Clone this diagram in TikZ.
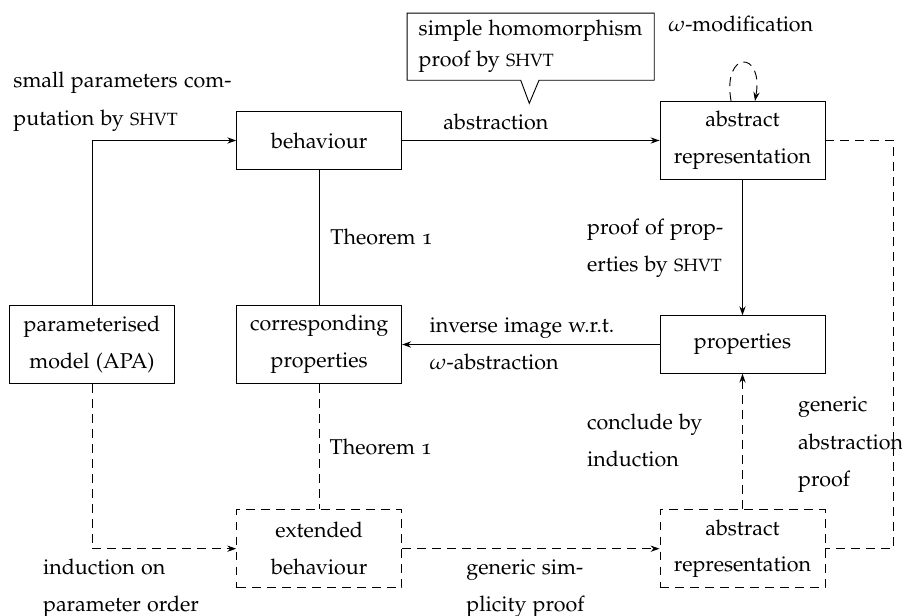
\documentclass[tikz,border=0pt]{standalone}
\usepackage[T1]{fontenc}
\usepackage[sc,osf]{mathpazo}
\usetikzlibrary{arrows.meta,shapes.callouts}

% tool name set in reduced capitals
\newcommand\shvt{{\fontsize{8.5}{10}\selectfont SHVT}}

\begin{document}
\begin{tikzpicture}[x=0.48pt,y=-0.48pt,
  every node/.style={font=\fontsize{10.3}{18}\selectfont},
  conn/.style={line width=0.45pt},
  dsh/.style={dash pattern=on 4.3pt off 2.9pt},
  arr/.style={conn,-{Stealth[length=4.3pt,width=3pt]}},
  box/.style={draw,conn,minimum width=79.2pt,minimum height=27.6pt,
    inner xsep=3pt,inner ysep=2pt,align=center},
  tall/.style={minimum height=37.5pt,font=\fontsize{10.3}{17.6}\selectfont},
  lbl/.style={anchor=base west,align=left,inner sep=0pt},
]
\useasboundingbox (0,0) rectangle (902,616);

% boxes
\node[box]          (beh) at (319.2,140.5) {behaviour};
\node[box,tall]     (ar)  at (742.5,140.5) {abstract\\representation};
\node[box,tall]     (pm)  at (92,344.5)    {parameterised\\model (APA)};
\node[box,tall]     (cp)  at (319.2,344.5) {corresponding\\properties};
\node[box]          (pr)  at (742.5,344.5) {properties};
\node[box,tall,dsh] (eb)  at (319.2,548.7) {extended\\behaviour};
\node[box,tall,dsh] (abr) at (742.5,548.7) {abstract\\representation};

% speech bubble
\node[draw,conn,rectangle callout,callout absolute pointer={(529.3,103.3)},
  callout pointer width=8.8pt,minimum width=118.6pt,minimum height=32.2pt,
  inner xsep=4.8pt,align=left,font=\fontsize{10.3}{14.9}\selectfont]
  (co) at (530.7,46.7) {simple homomorphism\\proof by \shvt};

% solid connectors
\draw[arr]  (pm.north) |- (beh.west);
\draw[arr]  (beh) -- (ar);
\draw[conn] (beh) -- (cp);
\draw[arr]  (ar) -- (pr);
\draw[arr]  (pr) -- (cp);

% dashed connectors
\draw[conn,dsh] (cp) -- (eb);
\draw[arr,dsh]  (pm.south) |- (eb.west);
\draw[arr,dsh]  (eb) -- (abr);
\draw[arr,dsh]  (abr) -- (pr);
\coordinate (rc) at (893.5,344.5);
\draw[conn,dsh] (ar.east) -| (rc) |- (abr.east);
\draw[arr,dsh]  ([xshift=-5.5pt]ar.north) .. controls +(-9,-51) and +(9,-51) .. ([xshift=6pt]ar.north);

% labels (placed at the baseline of their last line)
\node[lbl] (l1)  at (13,125.5)   {small parameters com-\\putation by \shvt};
\node[lbl] (l2)  at (443,130)    {abstraction};
\node[lbl] (l3)  at (668,32)     {$\omega$-modification};
\node[lbl] (l4)  at (586.7,271.7){proof of prop-\\erties by \shvt};
\node[lbl] (l5)  at (330,244.3)  {Theorem 1};
\node[lbl] (l6)  at (429.3,370)  {inverse image w.r.t.\\$\omega$-abstraction};
\node[lbl] (l7)  at (586.7,466.7){conclude by\\induction};
\node[lbl] (l8)  at (797.7,486.7){generic\\abstraction\\proof};
\node[lbl] (l9)  at (329.3,455)  {Theorem 1};
\node[lbl] (l10) at (42.7,611.7) {induction on\\parameter order};
\node[lbl] (l11) at (466,611.7)  {generic sim-\\plicity proof};
\end{tikzpicture}
\end{document}
